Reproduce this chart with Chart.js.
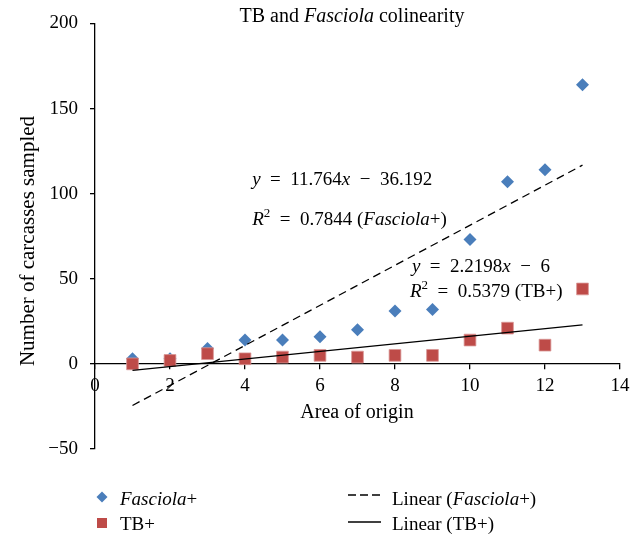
<!DOCTYPE html>
<html>
<head>
<meta charset="utf-8">
<script src="https://cdn.jsdelivr.net/npm/chart.js@4"></script>
<style>
  html, body { margin: 0; padding: 0; background: #fff; }
  #wrap { width: 638px; height: 537px; }
</style>
</head>
<body>
<div id="wrap"><canvas id="chart" width="638" height="537"></canvas></div>
<script>
// area of origin (x) and counts per area
const areas = [1, 2, 3, 4, 5, 6, 7, 8, 9, 10, 11, 12, 13];
const fasciolaPos = [3, 3, 9, 14, 14, 16, 20, 31, 32, 73, 107, 114, 164];
const tbPos = [0, 2, 6, 3, 4, 5, 4, 5, 5, 14, 21, 11, 44];

// fitted trend lines as printed on the chart
const fasciolaFit = { slope: 11.764, intercept: -36.192, r2: '0.7844' };
const tbFit = { slope: 2.2198, intercept: -6, r2: '0.5379' };

const xTicks = { min: 0, max: 14, step: 2 };
const yTicks = { min: -50, max: 200, step: 50 };

const blue = '#4a7ebb';
const red = '#be4b48';
const FONT = '"Liberation Serif", "DejaVu Serif", serif';
const EN = '\u2002';

const font = (size, italic) => (italic ? 'italic ' : '') + size + 'px ' + FONT;

// draw a line of text made of plain / italic / superscript pieces
function drawRuns(ctx, runs, x, y, size, align) {
  const parts = runs.map(([t, st]) => {
    const s = st === 'sup' ? Math.round(size * 0.68) : size;
    ctx.font = font(s, st === 'i');
    return { t, st, s, w: ctx.measureText(t).width };
  });
  const total = parts.reduce((a, p) => a + p.w, 0);
  let cx = align === 'center' ? x - total / 2 : x;
  ctx.textAlign = 'left';
  ctx.textBaseline = 'alphabetic';
  ctx.fillStyle = '#000';
  parts.forEach(p => {
    ctx.font = font(p.s, p.st === 'i');
    ctx.fillText(p.t, cx, p.st === 'sup' ? y - size * 0.4 : y);
    cx += p.w;
  });
}

const fitLine = f => [areas[0], areas[areas.length - 1]].map(x => ({ x, y: f.slope * x + f.intercept }));
const fmt = n => String(n).replace('-', '\u2212');

const textPlugin = {
  id: 'texts',
  afterDraw(chart) {
    const { ctx, scales: { x, y } } = chart;
    ctx.save();
    // title
    drawRuns(ctx, [['TB and '], ['Fasciola', 'i'], [' colinearity']], 352, 22, 20, 'center');
    // axis titles
    drawRuns(ctx, [['Area of origin']], 357, 418, 20, 'center');
    ctx.save();
    ctx.translate(34, 241);
    ctx.rotate(-Math.PI / 2);
    drawRuns(ctx, [['Number of carcasses sampled']], 0, 0, 21, 'center');
    ctx.restore();

    // trend equations
    const eq = (f, name, x0, x1, y0, y1) => {
      drawRuns(ctx, [['y', 'i'], [EN + '=' + EN + f.slope], ['x', 'i'], [EN + '\u2212' + EN + Math.abs(f.intercept)]],
        x.getPixelForValue(x0), y.getPixelForValue(y0), 19);
      drawRuns(ctx, [['R', 'i'], ['2', 'sup'], [EN + '=' + EN + f.r2 + ' ('], ...name, [')']],
        x.getPixelForValue(x1), y.getPixelForValue(y1), 19);
    };
    eq(fasciolaFit, [['Fasciola', 'i'], ['+']], 4.19, 4.19, 105, 81.8);
    eq(tbFit, [['TB+']], 8.45, 8.4, 53.9, 39.4);

    // legend
    const ly1 = 497, ly2 = 523;
    ctx.fillStyle = blue;
    ctx.beginPath();
    ctx.moveTo(102, ly1 - 5.5); ctx.lineTo(107.5, ly1); ctx.lineTo(102, ly1 + 5.5); ctx.lineTo(96.5, ly1);
    ctx.closePath(); ctx.fill();
    ctx.fillStyle = red;
    ctx.fillRect(97, ly2 - 5, 10, 10);
    drawRuns(ctx, [['Fasciola', 'i'], ['+']], 120, 505, 19);
    drawRuns(ctx, [['TB+']], 120, 530, 19);
    ctx.strokeStyle = '#000';
    ctx.lineWidth = 1.3;
    ctx.setLineDash([8, 4]);
    ctx.beginPath(); ctx.moveTo(348, 495); ctx.lineTo(381, 495); ctx.stroke();
    ctx.setLineDash([]);
    ctx.beginPath(); ctx.moveTo(348, 522); ctx.lineTo(381, 522); ctx.stroke();
    drawRuns(ctx, [['Linear ('], ['Fasciola', 'i'], ['+)']], 392, 505, 19);
    drawRuns(ctx, [['Linear (TB+)']], 392, 530, 19);
    ctx.restore();
  }
};

new Chart(document.getElementById('chart'), {
  type: 'scatter',
  data: {
    datasets: [
      {
        label: 'Fasciola+',
        data: areas.map((a, i) => ({ x: a, y: fasciolaPos[i] })),
        pointStyle: 'rectRot',
        pointRadius: 6.5,
        backgroundColor: blue,
        borderColor: blue,
        borderWidth: 0,
        order: 3
      },
      {
        label: 'TB+',
        data: areas.map((a, i) => ({ x: a, y: tbPos[i] })),
        pointStyle: 'rect',
        pointRadius: 8.3,
        backgroundColor: red,
        borderColor: '#d99795',
        borderWidth: 0.8,
        order: 2
      },
      {
        type: 'line',
        label: 'Linear (Fasciola+)',
        data: fitLine(fasciolaFit),
        borderColor: '#000',
        borderWidth: 1.3,
        borderDash: [8, 5],
        pointRadius: 0,
        fill: false,
        order: 1
      },
      {
        type: 'line',
        label: 'Linear (TB+)',
        data: fitLine(tbFit),
        borderColor: '#000',
        borderWidth: 1.3,
        pointRadius: 0,
        fill: false,
        order: 0
      }
    ]
  },
  options: {
    responsive: false,
    animation: false,
    layout: { padding: { left: 0, top: 18, right: 18, bottom: 88 } },
    plugins: { legend: { display: false }, tooltip: { enabled: false }, title: { display: false } },
    scales: {
      x: {
        type: 'linear',
        min: xTicks.min,
        max: xTicks.max,
        position: { y: 0 },
        ticks: { stepSize: xTicks.step, color: '#000', padding: 6, font: { family: FONT, size: 19 }, callback: fmt },
        grid: { drawOnChartArea: false, tickLength: 5, color: '#000', lineWidth: 1.3 },
        border: { color: '#000', width: 1.3 }
      },
      y: {
        min: yTicks.min,
        max: yTicks.max,
        afterFit: s => { s.width = 95; },
        ticks: { stepSize: yTicks.step, color: '#000', padding: 12, font: { family: FONT, size: 19 }, callback: fmt },
        grid: { drawOnChartArea: false, tickLength: 5, color: '#000', lineWidth: 1.3 },
        border: { color: '#000', width: 1.3 }
      }
    }
  },
  plugins: [textPlugin]
});
</script>
</body>
</html>
